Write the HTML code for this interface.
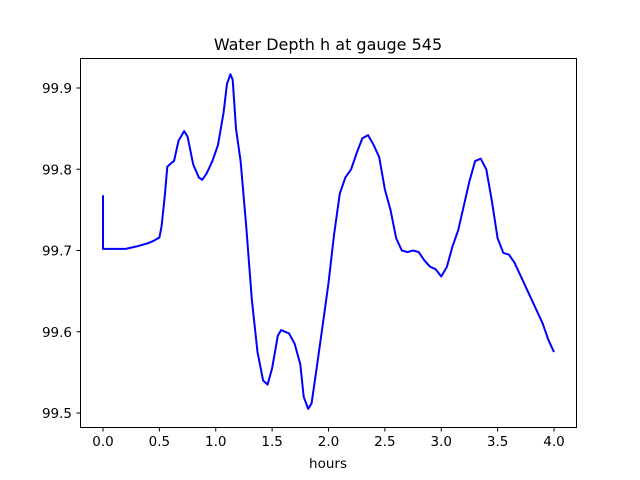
<!DOCTYPE html>
<html><head><meta charset="utf-8"><style>
html,body{margin:0;padding:0;background:#fff;}
svg{display:block;font-family:"DejaVu Sans","Liberation Sans",sans-serif;}
</style></head><body>
<svg id="chart" width="640" height="480">
<rect x="0" y="0" width="640" height="480" fill="#fff"/>
<text x="328" y="50" text-anchor="middle" font-size="16">Water Depth h at gauge 545</text>
<g id="ticks"></g>
<polyline id="line" fill="none" stroke="#0000ff" stroke-width="2" stroke-linejoin="round"/>
<rect x="80.5" y="58.5" width="496" height="369" fill="none" stroke="#000" stroke-width="1"/>
<text x="328" y="468" text-anchor="middle" font-size="13.5">hours</text>
</svg>
<script>
const hours=[0,0,0.2,0.3,0.4,0.45,0.5,0.52,0.55,0.57,0.6,0.63,0.67,0.72,0.75,0.8,0.85,0.88,0.92,0.97,1.02,1.07,1.1,1.13,1.15,1.18,1.22,1.27,1.32,1.37,1.42,1.46,1.5,1.55,1.58,1.65,1.7,1.75,1.78,1.82,1.85,1.9,1.95,2.0,2.05,2.1,2.15,2.2,2.25,2.3,2.35,2.4,2.45,2.5,2.55,2.6,2.65,2.7,2.75,2.8,2.85,2.9,2.95,3.0,3.05,3.1,3.15,3.2,3.25,3.3,3.35,3.4,3.45,3.5,3.55,3.6,3.65,3.7,3.75,3.8,3.85,3.9,3.95,4.0];
const depth=[99.768,99.702,99.702,99.705,99.709,99.712,99.716,99.73,99.77,99.803,99.807,99.81,99.835,99.847,99.84,99.806,99.79,99.787,99.795,99.81,99.83,99.87,99.905,99.917,99.91,99.85,99.81,99.73,99.64,99.575,99.54,99.535,99.555,99.595,99.602,99.598,99.585,99.56,99.52,99.505,99.512,99.56,99.61,99.66,99.72,99.77,99.79,99.80,99.82,99.838,99.842,99.83,99.815,99.775,99.75,99.715,99.70,99.698,99.70,99.698,99.688,99.68,99.677,99.668,99.68,99.705,99.725,99.755,99.785,99.81,99.813,99.80,99.76,99.715,99.697,99.695,99.685,99.67,99.655,99.64,99.625,99.61,99.59,99.575];
const xTicks=[0,0.5,1,1.5,2,2.5,3,3.5,4];
const xTickLabels=["0.0","0.5","1.0","1.5","2.0","2.5","3.0","3.5","4.0"];
const yTicks=[99.5,99.6,99.7,99.8,99.9];
const yTickLabels=["99.5","99.6","99.7","99.8","99.9"];
const X=t=>103+t*112.75;
const Y=v=>88+(99.9-v)*812.5;
const ns="http://www.w3.org/2000/svg";
const g=document.getElementById('ticks');
xTicks.forEach((t,i)=>{
 const l=document.createElementNS(ns,'line');
 
 
 l.setAttribute('x1',X(t));l.setAttribute('x2',X(t));l.setAttribute('y1',427.5);l.setAttribute('y2',431.5);l.setAttribute('stroke','#000');
 g.appendChild(l);
 const tx=document.createElementNS(ns,'text');
 
 
 tx.setAttribute('x',X(t));tx.setAttribute('y',446);tx.setAttribute('text-anchor','middle');tx.setAttribute('font-size','13.5');
 tx.textContent=xTickLabels[i];g.appendChild(tx);
});
yTicks.forEach((v,i)=>{
 const l=document.createElementNS(ns,'line');
 
 
 l.setAttribute('x1',76.5);l.setAttribute('x2',80.5);l.setAttribute('y1',Y(v));l.setAttribute('y2',Y(v));l.setAttribute('stroke','#000');
 g.appendChild(l);
 const tx=document.createElementNS(ns,'text');
 
 
 tx.setAttribute('x',72);tx.setAttribute('y',Y(v)+5);tx.setAttribute('text-anchor','end');tx.setAttribute('font-size','13.5');
 tx.textContent=yTickLabels[i];g.appendChild(tx);
});
document.getElementById('line').setAttribute('points',hours.map((t,i)=>X(t).toFixed(1)+','+Y(depth[i]).toFixed(1)).join(' '));
</script>
</body></html>
